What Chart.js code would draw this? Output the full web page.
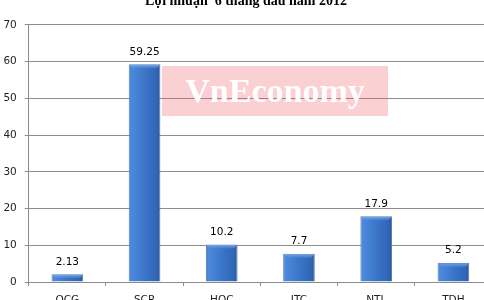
<!DOCTYPE html>
<html>
<head>
<meta charset="utf-8">
<script src="https://cdn.jsdelivr.net/npm/chart.js@4"></script>
<style>
  html, body { margin: 0; padding: 0; width: 484px; height: 300px; overflow: hidden; background: #fff; }
  #wrap { position: absolute; left: 0; top: -14px; width: 500px; height: 330px; }
  #wm { position: absolute; left: 162px; top: 66px; width: 226px; height: 50px;
        background: rgba(240,100,110,0.3); color: #fff; font: bold 34px "Liberation Serif", "Times New Roman", serif;
        text-align: center; line-height: 50px; pointer-events: none; }
</style>
</head>
<body>
<div id="wrap"><canvas id="c" width="500" height="330"></canvas></div>
<div id="wm">VnEconomy</div>
<script>
const titleText = 'Lợi nhuận  6 tháng đầu năm 2012';
const categories = ['QCG', 'SCR', 'HQC', 'ITC', 'NTL', 'TDH'];
const profits = [2.13, 59.25, 10.2, 7.7, 17.9, 5.2];
const profitLabels = ['2.13', '59.25', '10.2', '7.7', '17.9', '5.2'];
const yTicks = [0, 10, 20, 30, 40, 50, 60, 70];

const BAR_PCT = 0.41;

function barFill(ctx) {
  const chart = ctx.chart;
  const xs = chart.scales && chart.scales.x;
  if (!xs || xs.width === undefined || !isFinite(xs.getPixelForValue(0))) return '#3d75c8';
  const cx = xs.getPixelForValue(ctx.dataIndex);
  const w = (xs.width / categories.length) * BAR_PCT;
  const g = chart.ctx.createLinearGradient(cx - w / 2, 0, cx + w / 2, 0);
  g.addColorStop(0, '#4a86d8');
  g.addColorStop(0.12, '#4a88dc');
  g.addColorStop(0.5, '#3b75c8');
  g.addColorStop(0.88, '#3166b6');
  g.addColorStop(1, '#2a569e');
  return g;
}

const bevelPlugin = {
  id: 'bevel',
  afterDatasetsDraw(chart) {
    const c = chart.ctx;
    const meta = chart.getDatasetMeta(0);
    c.save();
    meta.data.forEach((bar) => {
      const w = bar.width;
      const x0 = bar.x - w / 2;
      const top = bar.y;
      const h = Math.min(4, bar.base - bar.y);
      const g = c.createLinearGradient(0, top, 0, top + h);
      g.addColorStop(0, 'rgba(130,178,238,0.9)');
      g.addColorStop(1, 'rgba(80,135,215,0.5)');
      c.fillStyle = g;
      c.beginPath();
      c.moveTo(x0 + 0.5, top + 0.5);
      c.lineTo(x0 + w - 0.5, top + 0.5);
      c.lineTo(x0 + w - 3.5, top + h);
      c.lineTo(x0 + 3.5, top + h);
      c.closePath();
      c.fill();
    });
    c.restore();
  }
};

const valueLabels = {
  id: 'valueLabels',
  afterDatasetsDraw(chart) {
    const c = chart.ctx;
    const meta = chart.getDatasetMeta(0);
    c.save();
    c.font = '10.5px "DejaVu Sans", Tahoma, sans-serif';
    c.fillStyle = '#000';
    c.textAlign = 'center';
    c.textBaseline = 'alphabetic';
    meta.data.forEach((bar, i) => {
      c.fillText(profitLabels[i], bar.x, bar.y - 9.5);
    });
    c.restore();
  }
};

new Chart(document.getElementById('c'), {
  type: 'bar',
  data: {
    labels: categories,
    datasets: [{
      data: profits,
      backgroundColor: barFill,
      borderColor: '#5f7fae',
      borderWidth: 1,
      borderSkipped: 'bottom',
      barPercentage: BAR_PCT,
      categoryPercentage: 1.0
    }]
  },
  options: {
    responsive: false,
    animation: false,
    devicePixelRatio: 1,
    layout: { padding: { left: 0, right: 8, top: 0, bottom: 4 } },
    plugins: {
      legend: { display: false },
      tooltip: { enabled: false },
      title: {
        display: true,
        text: titleText,
        color: '#000',
        font: { family: '"Liberation Serif", "Times New Roman", serif', size: 14, weight: 'bold' },
        padding: { top: 7, bottom: 15 }
      }
    },
    scales: {
      x: {
        offset: true,
        grid: { display: true, offset: true, drawOnChartArea: false, drawTicks: true, tickLength: 4, color: '#8c8c8c' },
        border: { display: true, color: '#8c8c8c', width: 1 },
        ticks: { color: '#222', padding: 8, font: { family: '"DejaVu Sans", Tahoma, sans-serif', size: 10.5 }, maxRotation: 0 },
        afterFit(scale) { scale.height = 30; }
      },
      y: {
        min: 0,
        max: 70,
        afterBuildTicks(scale) { scale.ticks = yTicks.map(v => ({ value: v })); },
        grid: { color: '#8c8c8c', tickLength: 4, drawTicks: true },
        border: { display: true, color: '#8c8c8c', width: 1 },
        ticks: { color: '#222', padding: 8, font: { family: '"DejaVu Sans", Tahoma, sans-serif', size: 10.5 } },
        afterFit(scale) { scale.width = 28.75; }
      }
    }
  },
  plugins: [bevelPlugin, valueLabels]
});
</script>
</body>
</html>
